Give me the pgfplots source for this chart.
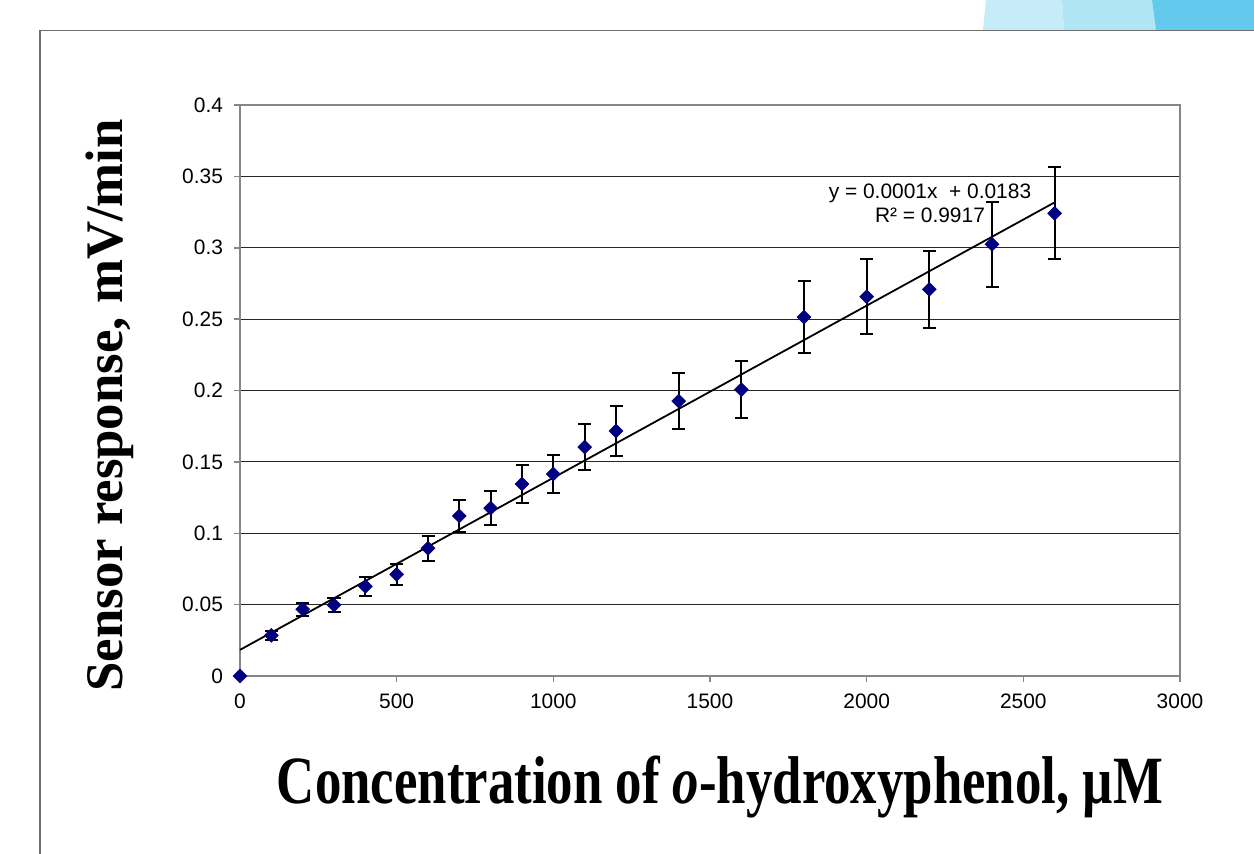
\documentclass[border=0pt]{standalone}
\usepackage{fontspec}
\setmainfont{Liberation Serif}
\newfontfamily\arialfont{Liberation Sans}
\usepackage{graphicx}
\usepackage{pgfplots}
\usepackage{pgfplotstable}
\pgfplotsset{compat=1.18}
\definecolor{navy}{RGB}{0,0,128}
\definecolor{axgray}{RGB}{134,134,134}
\definecolor{frgray}{RGB}{110,110,110}
\definecolor{blueA}{RGB}{198,236,249}
\definecolor{blueB}{RGB}{177,229,246}
\definecolor{blueC}{RGB}{100,202,237}

\pgfplotstableread{
x y e
100 0.0285 0.0030
200 0.0468 0.0046
300 0.0497 0.0048
400 0.0628 0.0065
500 0.0712 0.0073
600 0.0895 0.0089
700 0.1121 0.0112
800 0.1176 0.0117
900 0.1345 0.0135
1000 0.1415 0.0135
1100 0.1604 0.0160
1200 0.1716 0.0172
1400 0.1926 0.0196
1600 0.2006 0.0200
1800 0.2514 0.0252
2000 0.2657 0.0264
2200 0.2709 0.0270
2400 0.3024 0.0300
2600 0.3241 0.0323
}\datatable

\begin{document}
\begin{tikzpicture}
\useasboundingbox (0,0) rectangle (627bp,427bp);
\begin{scope}[x=0.5bp,y=0.5bp]
  \fill[blueA] (983,824) -- (986,854) -- (1062,854) -- (1064,824) -- cycle;
  \fill[blueB] (1064,824) -- (1062,854) -- (1152,854) -- (1156,824) -- cycle;
  \fill[blueC] (1156,824) -- (1152,854) -- (1254,854) -- (1254,824) -- cycle;
  \draw[frgray, line width=0.75bp] (40,0) -- (40,823.5) -- (1254,823.5);
\end{scope}
\begin{axis}[
  at={(120bp,89bp)}, anchor=south west,
  scale only axis, width=470bp, height=285.5bp,
  xmin=0, xmax=3000, ymin=0, ymax=0.4,
  xtick={0,500,1000,1500,2000,2500,3000},
  xticklabels={0,500,1000,1500,2000,2500,3000},
  ytick={0,0.05,0.1,0.15,0.2,0.25,0.3,0.35,0.4},
  yticklabels={0,0.05,0.1,0.15,0.2,0.25,0.3,0.35,0.4},
  ymajorgrids,
  grid style={black!85, line width=0.5bp},
  axis line style={axgray, line width=0.75bp},
  tick style={axgray, line width=0.75bp},
  major tick length=3bp, tick align=outside, tick pos=left,
  tick label style={font=\arialfont\fontsize{10.5}{12}\selectfont},
  yticklabel style={xshift=-2bp},
  xticklabel style={yshift=-2.5bp},
  clip=false,
  xlabel={\scalebox{1}[1.28]{Concentration of \textit{o}-hydroxyphenol, µM}},
  ylabel={Sensor response, mV/min},
  xlabel style={at={(axis description cs:0.5106,-0.195)}, anchor=center, font=\bfseries\fontsize{26.5}{30}\selectfont},
  ylabel style={at={(axis description cs:-0.138,0.474)}, anchor=center, font=\bfseries\fontsize{26.5}{30}\selectfont},
]
\addplot[only marks, mark=square*, mark size=2.45bp,
  mark options={rotate=45, fill=navy, draw=navy, line width=0.3bp},
  error bars/.cd, y dir=both, y explicit,
  error bar style={black, line width=1bp},
  error mark options={rotate=90, black, mark size=3.25bp, line width=1bp}]
  table[x=x, y=y, y error=e] {\datatable};
\addplot[only marks, mark=square*, mark size=2.45bp,
  mark options={rotate=45, fill=navy, draw=navy, line width=0.3bp}]
  coordinates {(0,0)};
\addplot[black, line width=0.9bp, no marks] coordinates {(0,0.0183) (2600,0.3318)};
\node[font=\arialfont\fontsize{10.5}{12.2}\selectfont, align=center] at (axis cs:2202,0.3313) {y = 0.0001x\ \ + 0.0183\\R² = 0.9917};
\end{axis}
\end{tikzpicture}
\end{document}
